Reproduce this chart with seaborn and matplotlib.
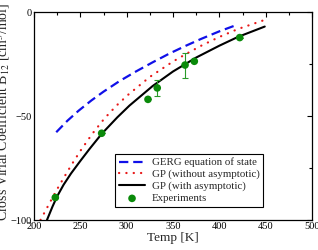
import matplotlib
matplotlib.use("Agg")
import matplotlib.pyplot as plt
from matplotlib.ticker import MultipleLocator
import seaborn as sns
import numpy as np

# --- data ---
gerg_T = [224, 236, 248, 262, 275, 292, 310, 328, 346, 364, 380, 400, 420]
gerg_B = [-57.8, -52.3, -47.5, -42.5, -38.3, -33.3, -28.6, -24.2, -20.0, -16.2, -13.0, -9.3, -6.0]

gp_noasym_T = [207, 214, 220, 226, 232, 240, 250, 263, 276, 289, 301, 325, 350, 364, 380, 400, 420, 449]
gp_noasym_B = [-100, -94.2, -89.2, -84.4, -79.8, -73.8, -66.8, -58.5, -51.2, -45.0, -40.0, -31.2,
               -23.8, -20.2, -16.3, -12.0, -8.2, -3.8]

gp_asym_T = [214, 220, 225, 232, 240, 250, 260, 273, 290, 303, 328, 350, 375, 400, 420, 449]
gp_asym_B = [-100, -93.5, -88.6, -83.0, -77.6, -71.6, -65.8, -58.6, -50.6, -45.0, -35.6, -28.6,
             -21.9, -16.2, -12.0, -7.0]

exp_T = [223, 273, 323, 333, 363, 373, 422]
exp_B = [-89.2, -58.3, -42.0, -36.5, -25.5, -23.7, -12.3]
exp_err = [0, 0, 0, 4.0, 6.0, 0, 0]

labels = ["GERG equation of state", "GP (without asymptotic)",
          "GP (with asymptotic)", "Experiments"]
x_ticks = [200, 250, 300, 350, 400, 450, 500]
y_ticks = [-100, -50, 0]

# --- style ---
sns.set_style("white")
plt.rcParams["font.family"] = ["Liberation Serif", "DejaVu Serif"]
plt.rcParams["mathtext.fontset"] = "stix"

fig = plt.figure(figsize=(3.18, 2.5), dpi=100)
ax = fig.add_axes([34 / 318, 30 / 250, 278 / 318, 208 / 250])

sns.lineplot(x=gerg_T, y=gerg_B, ax=ax, color="#1010e8", lw=1.6,
             linestyle=(0, (4.2, 2.2)), label=labels[0])
sns.lineplot(x=gp_noasym_T, y=gp_noasym_B, ax=ax, color="#e81818", lw=1.6,
             linestyle=(0, (0.1, 3.2)), dash_capstyle="round", label=labels[1])
sns.lineplot(x=gp_asym_T, y=gp_asym_B, ax=ax, color="black", lw=1.5, label=labels[2])

ax.errorbar(exp_T, exp_B, yerr=exp_err, fmt="none", ecolor="#2a9a2a",
            elinewidth=0.8, capsize=2.2, capthick=0.8, zorder=3)
sns.scatterplot(x=exp_T, y=exp_B, ax=ax, color="#0a8a0a", s=30, edgecolor="none",
                zorder=4, label=labels[3])

ax.set_xlim(200, 500)
ax.set_ylim(-100, 0)
ax.set_xticks(x_ticks)
ax.set_yticks(y_ticks)
ax.xaxis.set_minor_locator(MultipleLocator(25))
ax.yaxis.set_minor_locator(MultipleLocator(25))
ax.tick_params(which="both", direction="in", top=True, right=True,
               labelsize=7.5, width=0.8, colors="black")
ax.tick_params(which="major", length=3.6, pad=1.5)
ax.tick_params(which="minor", length=2.0)
for sp in ax.spines.values():
    sp.set_linewidth(0.9)
    sp.set_color("black")

ax.set_xlabel("Temp [K]", fontsize=9.5, labelpad=1)
ax.set_ylabel(r"Cross Virial Coefficient B$_{12}$ [cm$^{3}$/mol]", fontsize=10)
ax.yaxis.set_label_coords(-0.079, 0.52)

leg = ax.legend(loc="lower right", bbox_to_anchor=(0.824, 0.0625), borderaxespad=0,
                fontsize=7.8, frameon=True, fancybox=False, edgecolor="black",
                framealpha=1, labelspacing=0.2, handlelength=2.4, handletextpad=0.6,
                borderpad=0.35)
leg.get_frame().set_linewidth(0.8)

fig.savefig("out.png", dpi=100)
